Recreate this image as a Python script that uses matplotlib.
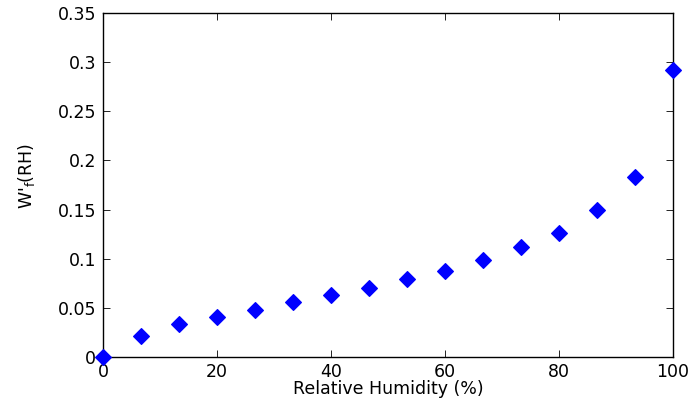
import matplotlib
matplotlib.use("Agg")
import matplotlib.pyplot as plt
from matplotlib.ticker import FuncFormatter

# relative humidity (%) and fitted W'_f values
rh = [0, 6.67, 13.33, 20, 26.67, 33.33, 40, 46.67, 53.33, 60,
      66.67, 73.33, 80, 86.67, 93.33, 100]
wf = [0.0, 0.0214, 0.0336, 0.0407, 0.0478, 0.056, 0.063, 0.070, 0.079,
      0.0875, 0.0982, 0.112, 0.126, 0.1496, 0.183, 0.2918]

x_ticks = [0, 20, 40, 60, 80, 100]
y_ticks = [0, 0.05, 0.1, 0.15, 0.2, 0.25, 0.3, 0.35]

# wide sans face, closest to the stretched Helvetica of the original
plt.rcParams['font.family'] = ['DejaVu Sans']
plt.rcParams['mathtext.fontset'] = 'dejavusans'

fs = 12.5

fig = plt.figure(figsize=(6.93, 4.0), dpi=100)
ax = fig.add_axes([0.1486, 0.1075, 0.8224, 0.86])

ax.plot(rh, wf, linestyle='none', marker='D', markersize=7.8,
        markerfacecolor='#0000ff', markeredgecolor='#0000ff', markeredgewidth=0.8,
        clip_on=False, zorder=5)

ax.set_xlim(0, 100)
ax.set_ylim(0, 0.35)
ax.set_xticks(x_ticks)
ax.set_yticks(y_ticks)
ax.yaxis.set_major_formatter(FuncFormatter(lambda v, p: f"{v:g}"))

ax.tick_params(direction='in', length=5, width=0.6, top=True, right=True,
               labelsize=fs, colors='black')
ax.tick_params(axis='x', pad=4)
ax.tick_params(axis='y', pad=5)
for s in ax.spines.values():
    s.set_linewidth(1.0)

ax.set_xlabel("Relative Humidity (%)", fontsize=fs)
ax.set_ylabel(r"W'$_{\mathregular{f}}$(RH)", fontsize=fs)
ax.xaxis.set_label_coords(0.5, -0.068)
ax.yaxis.set_label_coords(-0.116, 0.526)

fig.savefig("out.png", dpi=100)
